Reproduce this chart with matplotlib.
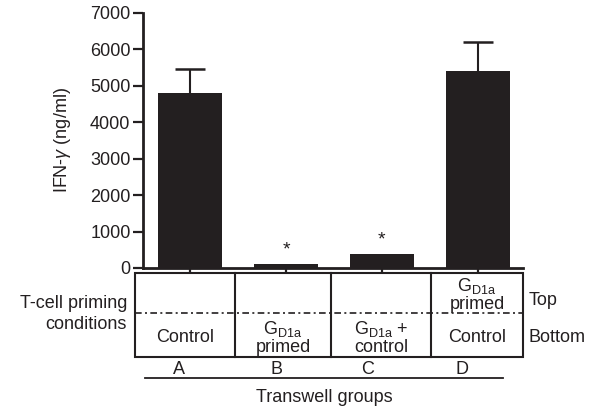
import matplotlib
matplotlib.use("Agg")
import matplotlib.pyplot as plt
import numpy as np

# values
groups = ["A", "B", "C", "D"]
ifn_mean = [4800, 100, 380, 5410]
ifn_err = [670, 0, 0, 800]
significant = [False, True, True, False]

gd1a = r"G$_{\mathrm{D1a}}$"
top_cond = ["", "", "", gd1a + "\nprimed"]
bottom_cond = ["Control", gd1a + "\nprimed", gd1a + " +\ncontrol", "Control"]

plt.rcParams["font.family"] = "Liberation Sans"
plt.rcParams["font.size"] = 13
plt.rcParams["mathtext.fontset"] = "custom"
plt.rcParams["mathtext.rm"] = "Liberation Sans"
plt.rcParams["mathtext.it"] = "Liberation Sans:italic"

W, H = 597, 411
ink = "#231f20"
fig = plt.figure(figsize=(W / 100, H / 100), dpi=100)

# main bar axes, placed in pixel terms
x0, x1, ytop, ybot = 143, 523, 13, 268
ax = fig.add_axes([x0 / W, (H - ybot) / H, (x1 - x0) / W, (ybot - ytop) / H])
x = np.arange(len(groups))
mean = np.array(ifn_mean)
err = np.array(ifn_err)
ax.bar(x, mean, width=0.67, color=ink, zorder=2)

# upward-only error bars, single cap at the top
has = err > 0
ax.vlines(x[has], mean[has], mean[has] + err[has], color=ink, lw=1.5, zorder=1)
ax.hlines(mean[has] + err[has], x[has] - 0.16, x[has] + 0.16, color=ink, lw=1.8, zorder=1)

for xi, m, s in zip(x, mean, significant):
    if s:
        ax.annotate("*", (xi, m), xytext=(0, 10), textcoords="offset points",
                    ha="center", va="center", fontsize=14, color=ink)

ax.set_xlim(-0.49, 3.47)
ax.set_ylim(0, 7000)
ax.set_yticks(range(0, 7001, 1000))
ax.set_xticks(x)
ax.set_xticklabels([])
ax.tick_params(axis="y", length=7, width=1.6, pad=2, colors=ink, labelcolor=ink)
ax.tick_params(axis="x", length=3.5, width=1.6, colors=ink)
for side in ["top", "right"]:
    ax.spines[side].set_visible(False)
for side in ["left", "bottom"]:
    ax.spines[side].set_linewidth(2)
    ax.spines[side].set_color(ink)
ax.set_ylabel(r"IFN-$\gamma$ (ng/ml)", color=ink)
ax.yaxis.set_label_coords((73 - x0) / (x1 - x0), 0.5)

# overlay in pixel coordinates for the condition table
ov = fig.add_axes([0, 0, 1, 1], zorder=-1)
ov.set_xlim(0, W)
ov.set_ylim(H, 0)
ov.axis("off")

cols = [135, 235, 331, 431, 523]
t_top, t_mid, t_bot = 273, 313, 357
ov.add_patch(plt.Rectangle((cols[0], t_top), cols[-1] - cols[0], t_bot - t_top,
                           fill=False, lw=1.5, ec=ink))
for c in cols[1:-1]:
    ov.plot([c, c], [t_top, t_bot], color=ink, lw=1.5)
ov.plot([cols[0], cols[-1]], [t_mid, t_mid], color=ink, lw=1.2,
        dashes=(4, 2, 1.2, 2))

for i in range(len(groups)):
    cx = (cols[i] + cols[i + 1]) / 2
    if top_cond[i]:
        ov.text(cx, (t_top + t_mid) / 2 + 1, top_cond[i], ha="center", va="center",
                linespacing=1.0, color=ink)
    ov.text(cx, (t_mid + t_bot) / 2 + 2, bottom_cond[i], ha="center", va="center",
            linespacing=1.0, color=ink)

ov.text(127, t_mid + 1, "T-cell priming\nconditions", ha="right", va="center",
        linespacing=1.25, color=ink)
ov.text(529, 300, "Top", ha="left", va="center", color=ink)
ov.text(529, 337, "Bottom", ha="left", va="center", color=ink)

label_x = [179, 276, 368, 462]
for lx, g in zip(label_x, groups):
    ov.text(lx, 369, g, ha="center", va="center", color=ink)
ov.plot([145, 503], [378, 378], color=ink, lw=1.3)
ov.text((145 + 503) / 2, 397, "Transwell groups", ha="center", va="center", color=ink)

fig.savefig("out.png", dpi=100)
